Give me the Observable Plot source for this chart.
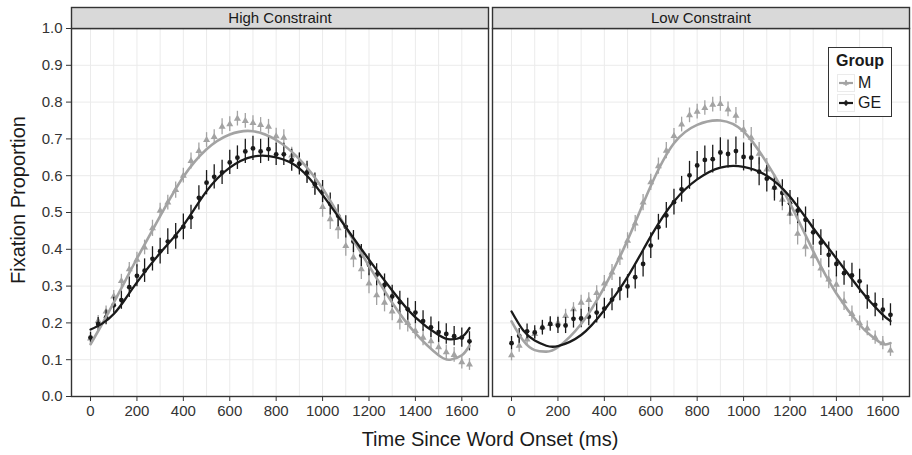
<!DOCTYPE html>
<html>
<head>
<meta charset="utf-8">
<script src="https://cdn.jsdelivr.net/npm/d3@7"></script>
<script src="https://cdn.jsdelivr.net/npm/@observablehq/plot@0.6"></script>
<style>
  body { margin: 0; background: #fff; }
  #wrap { position: relative; width: 912px; height: 455px; font-family: "Liberation Sans", Arial, sans-serif; color: #1a1a1a; }
  #wrap svg { display: block; }
  .ytitle { position: absolute; left: 18px; top: 200px; transform: translate(-50%, -50%) rotate(-90deg); font-size: 20px; white-space: nowrap; }
  .xtitle { position: absolute; left: 490px; top: 428px; transform: translateX(-50%); font-size: 20px; white-space: nowrap; }
  .legend { position: absolute; left: 828px; top: 47px; width: 64px; height: 70px; box-sizing: border-box; border: 1.6px solid #333; background: #fff; }
  .legend .ttl { position: absolute; left: 0; right: 0; top: 4px; text-align: center; font-weight: bold; font-size: 16px; }
  .legend .row { position: absolute; left: 8px; height: 18px; display: flex; align-items: center; font-size: 16px; }
  .legend .row svg { margin-right: 3px; }
</style>
</head>
<body>
<div id="wrap"></div>
<script>
// ---- data ----
const conditions = ["High Constraint", "Low Constraint"];
const groups = ["M", "GE"];
const xTicks = [0, 200, 400, 600, 800, 1000, 1200, 1400, 1600];
const xGrid = [0, 100, 200, 300, 400, 500, 600, 700, 800, 900, 1000, 1100, 1200, 1300, 1400, 1500, 1600];
const yTicks = [0, 0.1, 0.2, 0.3, 0.4, 0.5, 0.6, 0.7, 0.8, 0.9, 1.0];

const times = [0,33,67,100,133,167,200,233,267,300,333,367,400,433,467,500,533,567,600,633,667,700,733,767,800,833,867,900,933,967,1000,1033,1067,1100,1133,1167,1200,1233,1267,1300,1333,1367,1400,1433,1467,1500,1533,1567,1600,1633];

// High Constraint, group M (means, error half-widths)
const hcM = [0.158,0.205,0.231,0.272,0.314,0.346,0.372,0.405,0.457,0.505,0.527,0.561,0.600,0.640,0.667,0.697,0.705,0.733,0.740,0.755,0.749,0.743,0.738,0.733,0.707,0.703,0.655,0.635,0.607,0.572,0.515,0.482,0.457,0.409,0.378,0.346,0.307,0.275,0.255,0.231,0.206,0.200,0.178,0.160,0.150,0.134,0.120,0.113,0.093,0.087];
const hcMerr = [0.012,0.015,0.015,0.016,0.018,0.018,0.020,0.020,0.022,0.020,0.020,0.022,0.020,0.022,0.022,0.020,0.020,0.022,0.020,0.020,0.020,0.020,0.020,0.020,0.022,0.022,0.022,0.025,0.025,0.025,0.028,0.028,0.030,0.028,0.028,0.028,0.028,0.028,0.025,0.025,0.025,0.025,0.022,0.022,0.022,0.020,0.020,0.020,0.018,0.016];
// High Constraint, group GE
const hcGE = [0.160,0.197,0.215,0.248,0.262,0.297,0.328,0.342,0.374,0.395,0.421,0.435,0.461,0.487,0.540,0.581,0.597,0.609,0.636,0.649,0.666,0.674,0.666,0.672,0.658,0.658,0.642,0.632,0.609,0.577,0.557,0.523,0.491,0.461,0.421,0.383,0.358,0.331,0.303,0.272,0.256,0.237,0.228,0.205,0.188,0.175,0.170,0.164,0.160,0.150];
const hcGEerr = [0.015,0.018,0.020,0.022,0.025,0.028,0.030,0.032,0.033,0.035,0.035,0.035,0.035,0.033,0.033,0.033,0.033,0.033,0.033,0.032,0.033,0.033,0.033,0.033,0.030,0.030,0.030,0.030,0.030,0.030,0.030,0.030,0.030,0.030,0.030,0.030,0.030,0.030,0.030,0.030,0.030,0.030,0.030,0.028,0.028,0.028,0.028,0.026,0.026,0.026];
// Low Constraint, group M
const lcM = [0.112,0.138,0.155,0.170,0.188,0.197,0.200,0.219,0.237,0.255,0.262,0.281,0.307,0.337,0.378,0.423,0.470,0.527,0.582,0.626,0.668,0.708,0.739,0.764,0.774,0.784,0.793,0.795,0.780,0.763,0.725,0.703,0.660,0.617,0.568,0.535,0.497,0.442,0.407,0.381,0.348,0.318,0.304,0.259,0.224,0.199,0.185,0.160,0.145,0.125];
const lcMerr = [0.015,0.018,0.015,0.015,0.015,0.016,0.018,0.018,0.018,0.020,0.020,0.020,0.022,0.022,0.022,0.022,0.022,0.022,0.022,0.022,0.022,0.020,0.020,0.020,0.020,0.020,0.020,0.020,0.020,0.022,0.025,0.028,0.030,0.030,0.030,0.030,0.030,0.030,0.028,0.028,0.026,0.025,0.025,0.025,0.022,0.020,0.020,0.018,0.018,0.016];
// Low Constraint, group GE
const lcGE = [0.145,0.165,0.177,0.174,0.187,0.197,0.193,0.193,0.211,0.212,0.217,0.228,0.239,0.263,0.292,0.299,0.324,0.360,0.410,0.460,0.492,0.528,0.563,0.601,0.628,0.643,0.645,0.663,0.659,0.667,0.651,0.649,0.611,0.592,0.567,0.553,0.525,0.505,0.480,0.446,0.418,0.385,0.360,0.335,0.329,0.313,0.270,0.249,0.236,0.222];
const lcGEerr = [0.018,0.020,0.020,0.018,0.020,0.020,0.022,0.022,0.025,0.025,0.025,0.028,0.028,0.030,0.032,0.032,0.032,0.035,0.035,0.035,0.035,0.035,0.035,0.038,0.038,0.038,0.038,0.040,0.038,0.038,0.038,0.038,0.038,0.036,0.036,0.036,0.035,0.035,0.035,0.035,0.035,0.035,0.035,0.033,0.033,0.033,0.033,0.032,0.030,0.030];

// fitted growth curves
const fitTimes = [0,50,100,150,200,300,400,500,600,700,800,900,1000,1100,1200,1300,1400,1500,1550,1600,1633];
const hcMfit  = [0.142,0.197,0.255,0.315,0.375,0.490,0.597,0.672,0.712,0.721,0.697,0.645,0.565,0.460,0.355,0.255,0.172,0.112,0.100,0.112,0.138];
const hcGEfit = [0.182,0.198,0.224,0.265,0.310,0.390,0.465,0.558,0.622,0.652,0.650,0.620,0.548,0.460,0.372,0.288,0.215,0.167,0.155,0.162,0.186];
const lcMfit  = [0.204,0.152,0.126,0.122,0.134,0.197,0.297,0.425,0.572,0.688,0.738,0.750,0.720,0.635,0.525,0.395,0.280,0.195,0.165,0.143,0.145];
const lcGEfit = [0.231,0.180,0.152,0.138,0.137,0.167,0.235,0.325,0.435,0.530,0.590,0.622,0.624,0.600,0.543,0.458,0.375,0.292,0.255,0.222,0.205];

const colors = {M: "#a3a3a3", GE: "#1a1a1a"};

// ---- build tables ----
const obsSets = [
  [conditions[0], "M", hcM, hcMerr],
  [conditions[0], "GE", hcGE, hcGEerr],
  [conditions[1], "M", lcM, lcMerr],
  [conditions[1], "GE", lcGE, lcGEerr]
];
const obs = [];
for (const [cond, group, vals, errs] of obsSets) {
  vals.forEach((v, i) => obs.push({cond, group, t: times[i], y: v, lo: v - errs[i], hi: v + errs[i]}));
}
const fitSets = [
  [conditions[0], "M", hcMfit],
  [conditions[0], "GE", hcGEfit],
  [conditions[1], "M", lcMfit],
  [conditions[1], "GE", lcGEfit]
];
const fits = [];
for (const [cond, group, vals] of fitSets) {
  vals.forEach((v, i) => fits.push({cond, group, t: fitTimes[i], y: v}));
}
const sel = (arr, g) => arr.filter(d => d.group === g);

const plot = Plot.plot({
  width: 912,
  height: 455,
  marginTop: 28,
  marginBottom: 59,
  marginLeft: 71,
  marginRight: 2,
  style: {fontFamily: "'Liberation Sans', Arial, sans-serif", fontSize: "15px", color: "#333", background: "#fff", overflow: "visible"},
  fx: {domain: conditions, axis: null, paddingInner: 0.0095, paddingOuter: 0, label: null},
  x: {domain: [-82, 1715], label: null},
  y: {domain: [0, 1], label: null},
  marks: [
    Plot.gridX(xGrid, {stroke: "#ebebeb", strokeOpacity: 1, strokeWidth: 1}),
    Plot.gridY(yTicks, {stroke: "#ebebeb", strokeOpacity: 1, strokeWidth: 1}),
    Plot.axisX(xTicks, {tickSize: 5, tickPadding: 4, tickFormat: d => String(d), label: null, stroke: "#333", fill: "#333", fontSize: 15}),
    Plot.axisY(yTicks, {tickSize: 5, tickPadding: 4, tickFormat: d => d.toFixed(1), label: null, stroke: "#333", fill: "#333", fontSize: 15}),
    // error bars and points, M then GE
    Plot.ruleX(sel(obs, "M"), {fx: "cond", x: "t", y1: "lo", y2: "hi", stroke: colors.M, strokeWidth: 1.3}),
    Plot.dot(sel(obs, "M"), {fx: "cond", x: "t", y: "y", symbol: "triangle", r: 2.6, fill: colors.M, stroke: "none"}),
    Plot.ruleX(sel(obs, "GE"), {fx: "cond", x: "t", y1: "lo", y2: "hi", stroke: colors.GE, strokeWidth: 1.3}),
    Plot.dot(sel(obs, "GE"), {fx: "cond", x: "t", y: "y", symbol: "circle", r: 2.4, fill: colors.GE, stroke: "none"}),
    // fitted lines
    Plot.line(sel(fits, "M"), {fx: "cond", x: "t", y: "y", stroke: colors.M, strokeWidth: 2.6, curve: "natural"}),
    Plot.line(sel(fits, "GE"), {fx: "cond", x: "t", y: "y", stroke: colors.GE, strokeWidth: 2.3, curve: "natural"}),
    // panel borders and strips
    Plot.frame({stroke: "#333", strokeWidth: 1.4}),
    Plot.frame({fill: "#d9d9d9", stroke: "#333", strokeWidth: 1.4, insetTop: -21, insetBottom: 368}),
    Plot.text(conditions, {fx: d => d, text: d => d, frameAnchor: "top", lineAnchor: "middle", dy: -10.5, fontSize: 15, fill: "#1a1a1a"})
  ]
});

const wrap = document.getElementById("wrap");
wrap.appendChild(plot);

const yt = document.createElement("div");
yt.className = "ytitle";
yt.textContent = "Fixation Proportion";
wrap.appendChild(yt);

const xt = document.createElement("div");
xt.className = "xtitle";
xt.textContent = "Time Since Word Onset (ms)";
wrap.appendChild(xt);

// legend
const lg = document.createElement("div");
lg.className = "legend";
const ttl = document.createElement("div");
ttl.className = "ttl";
ttl.textContent = "Group";
lg.appendChild(ttl);
groups.forEach((g, i) => {
  const row = document.createElement("div");
  row.className = "row";
  row.style.top = (26 + i * 20) + "px";
  const key = d3.create("svg").attr("width", 18).attr("height", 18);
  key.append("rect").attr("x", 0.5).attr("y", 0.5).attr("width", 17).attr("height", 17).attr("fill", "#fff").attr("stroke", "#ebebeb");
  key.append("line").attr("x1", 2).attr("x2", 16).attr("y1", 9).attr("y2", 9).attr("stroke", colors[g]).attr("stroke-width", 2.2);
  key.append("line").attr("x1", 9).attr("x2", 9).attr("y1", 6).attr("y2", 12).attr("stroke", colors[g]).attr("stroke-width", 1.2);
  key.append("path").attr("transform", "translate(9,9)").attr("d", d3.symbol(g === "M" ? d3.symbolTriangle : d3.symbolCircle, 14)()).attr("fill", colors[g]);
  row.appendChild(key.node());
  const lab = document.createElement("span");
  lab.textContent = g;
  row.appendChild(lab);
  lg.appendChild(row);
});
wrap.appendChild(lg);
</script>
</body>
</html>
